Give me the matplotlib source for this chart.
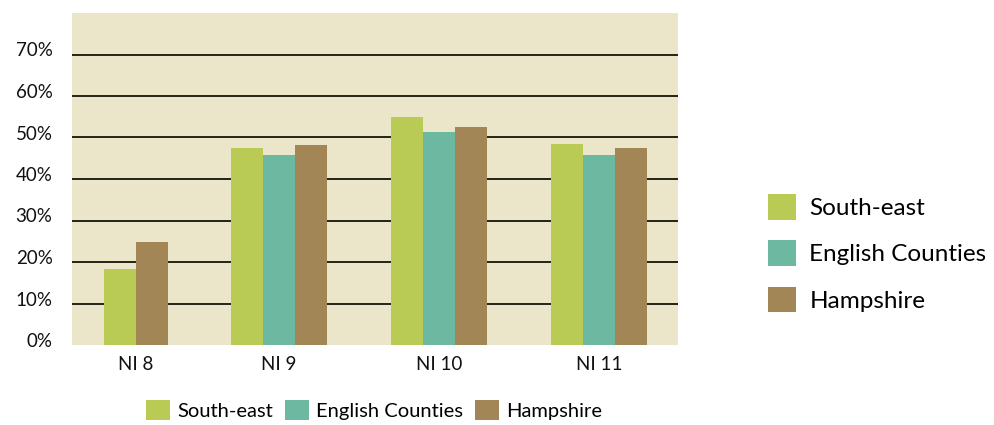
import matplotlib
matplotlib.use("Agg")
import matplotlib.pyplot as plt
from matplotlib.patches import Patch
from matplotlib.transforms import ScaledTranslation
import numpy as np

plt.rcParams['font.family'] = ['Lato', 'DejaVu Sans']

categories = ["NI 8", "NI 9", "NI 10", "NI 11"]
series_names = ["South-east", "English Counties", "Hampshire"]
south_east = [18.4, 47.5, 54.9, 48.4]
english_counties = [None, 45.8, 51.4, 45.8]
hampshire = [24.8, 48.2, 52.6, 47.5]
y_ticks = [0, 10, 20, 30, 40, 50, 60, 70]
y_tick_labels = ["0%", "10%", "20%", "30%", "40%", "50%", "60%", "70%"]

# layout constants
group_x = [0.106, 1.0, 2.0, 3.0]
bar_w = 0.2
colors = ["#b9cb55", "#6cb8a0", "#a38655"]
bg = "#ebe6ca"

fig = plt.figure(figsize=(9.94, 4.25), dpi=100)
ax = fig.add_axes([72/994, 80/425, 606/994, 332/425])
ax.set_facecolor(bg)

series = [south_east, english_counties, hampshire]
for gi, gx in enumerate(group_x):
    present = [si for si in range(3) if series[si][gi] is not None]
    n = len(present)
    for k, si in enumerate(present):
        off = (k - (n - 1) / 2) * bar_w
        ax.bar(gx + off, series[si][gi], width=bar_w, color=colors[si],
               edgecolor='none', zorder=3)

ax.set_xlim(-0.29375, 3.49375)
ax.set_ylim(0, 80)
ax.set_yticks(y_ticks)
ax.set_yticklabels(y_tick_labels)
ax.set_xticks(group_x)
ax.set_xticklabels(categories)
ax.tick_params(axis='y', length=0, pad=14, labelsize=13.5, colors='#111111')
ax.tick_params(axis='x', length=0, pad=8, labelsize=13.5, colors='#111111')
shift = ScaledTranslation(0, 5/100, fig.dpi_scale_trans)
for lab in ax.get_yticklabels():
    lab.set_transform(lab.get_transform() + shift)
for s in ax.spines.values():
    s.set_visible(False)
ax.yaxis.grid(True, color='#222218', linewidth=1.4, zorder=1)
ax.set_axisbelow(True)
gl = ax.get_ygridlines()
gl[0].set_visible(False)

handles = [Patch(facecolor=c, edgecolor='none') for c in colors]

fig.legend(handles, series_names, loc='center', bbox_to_anchor=(374/994, 1 - 410/425),
           ncol=3, frameon=False, fontsize=14.5, handlelength=1.2, handleheight=1.2,
           handletextpad=0.35, columnspacing=0.6, borderpad=0, borderaxespad=0)

fig.legend(handles, series_names, loc='upper left', bbox_to_anchor=(768/994, 1 - 194/425),
           ncol=1, frameon=False, fontsize=17.5, handlelength=1.15, handleheight=1.25,
           handletextpad=0.55, labelspacing=0.85, borderpad=0, borderaxespad=0)

fig.savefig("out.png", dpi=100, facecolor='white')
